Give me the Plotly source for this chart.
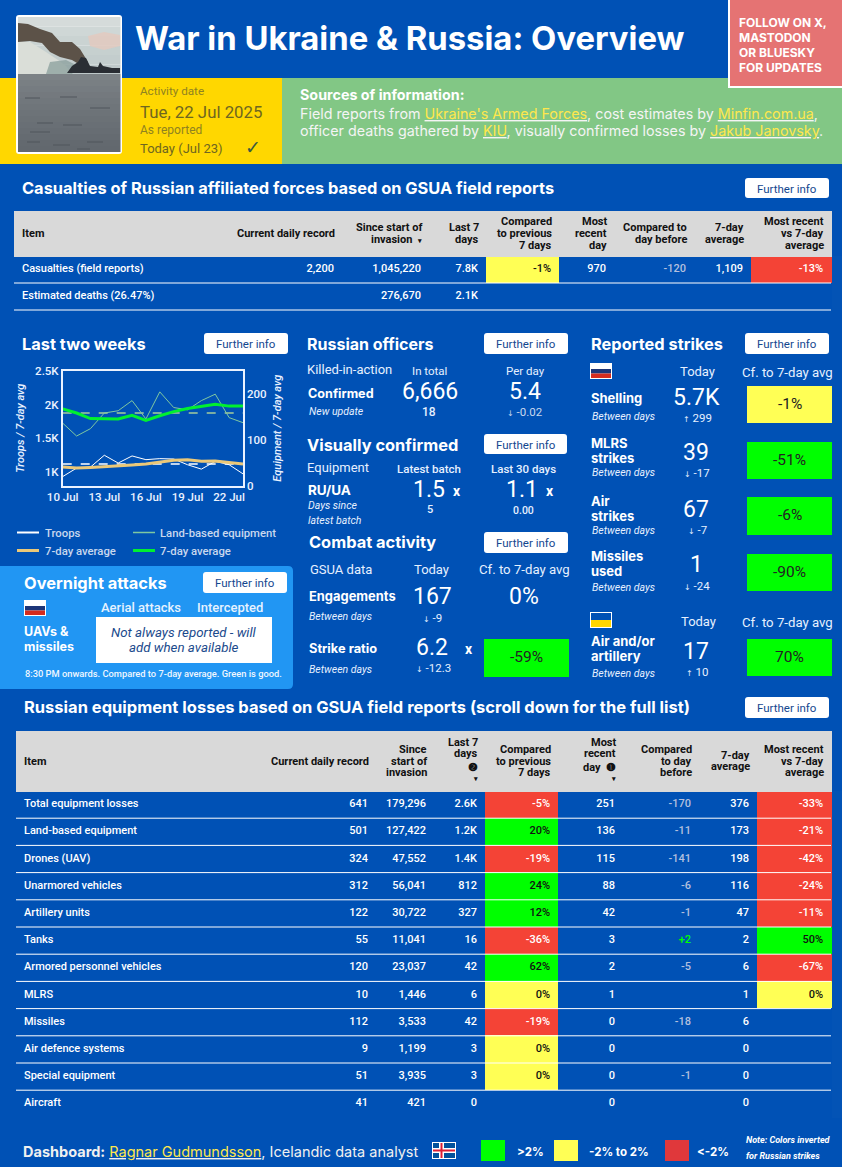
import plotly.graph_objects as go

W, H = 842, 1167
BLUE = "#0051B5"
GREEN = "#00FF00"
YELLOW = "#FFFF55"
RED = "#F44336"
PALE = "#B4C0DE"
GREY = "#D9D9D9"
BODY = "Roboto"
HEAD = "Inter"

# --- chart data ---
days = ["10 Jul", "11 Jul", "12 Jul", "13 Jul", "14 Jul", "15 Jul", "16 Jul",
        "17 Jul", "18 Jul", "19 Jul", "20 Jul", "21 Jul", "22 Jul", "23 Jul"]
day_ticks = ["10 Jul", "13 Jul", "16 Jul", "19 Jul", "22 Jul"]
troops = [935, 1060, 1075, 1250, 1135, 1240, 1185, 1200, 1195, 1110, 1045, 1160, 1110, 975]
troops_avg = [1075, 1060, 1070, 1080, 1085, 1105, 1120, 1150, 1175, 1185, 1160, 1165, 1145, 1120]
troops_ref = 1120
equipment = [136, 108, 124, 158, 163, 185, 145, 204, 170, 165, 185, 199, 148, 137]
equipment_avg = [167, 158, 146, 145, 145, 153, 142, 152, 161, 168, 173, 177, 173, 173]
equipment_ref = 158

# --- casualties table ---
cas_items = ["Casualties (field reports)", "Estimated deaths (26.47%)"]
cas_record = ["2,200", ""]
cas_total = ["1,045,220", "276,670"]
cas_last7 = ["7.8K", "2.1K"]
cas_cmp7 = [-1, None]
cas_recent = ["970", ""]
cas_before = ["-120", ""]
cas_avg7 = ["1,109", ""]
cas_vs7 = [-13, None]

# --- equipment table ---
eq_items = ["Total equipment losses", "Land-based equipment", "Drones (UAV)", "Unarmored vehicles",
            "Artillery units", "Tanks", "Armored personnel vehicles", "MLRS", "Missiles",
            "Air defence systems", "Special equipment", "Aircraft"]
eq_record = ["641", "501", "324", "312", "122", "55", "120", "10", "112", "9", "51", "41"]
eq_total = ["179,296", "127,422", "47,552", "56,041", "30,722", "11,041", "23,037", "1,446",
            "3,533", "1,199", "3,935", "421"]
eq_last7 = ["2.6K", "1.2K", "1.4K", "812", "327", "16", "42", "6", "42", "3", "3", "0"]
eq_cmp7 = [-5, 20, -19, 24, 12, -36, 62, 0, -19, 0, 0, None]
eq_recent = ["251", "136", "115", "88", "42", "3", "2", "1", "0", "0", "0", "0"]
eq_before = ["-170", "-11", "-141", "-6", "-1", "+2", "-5", "", "-18", "", "-1", ""]
eq_avg7 = ["376", "173", "198", "116", "47", "2", "6", "1", "6", "0", "0", "0"]
eq_vs7 = [-33, -21, -42, -24, -11, 50, -67, 0, None, None, None, None]

# --- strikes ---
strike_names = [["Shelling"], ["MLRS", "strikes"], ["Air", "strikes"], ["Missiles", "used"],
                ["Air and/or", "artillery"]]
strike_today = ["5.7K", "39", "67", "1", "17"]
strike_delta = [299, -17, -7, -24, 10]
strike_cf = [-1, -51, -6, -90, 70]
strike_inverted = [True, True, True, True, False]

annotations, shapes = [], []
SORT = '<span style="font-size:7px">▾</span>'


def fx(x):
    return x / W


def fy(y):
    return 1 - y / H


def txt(x, y, s, size=12, color="white", anchor="left", weight=400, italic=False, family=BODY):
    annotations.append(dict(
        x=fx(x), y=fy(y), xref="paper", yref="paper", text=s, showarrow=False,
        xanchor=anchor, yanchor="middle", borderpad=0, borderwidth=0,
        font=dict(family=family, size=size, color=color, weight=weight,
                  style="italic" if italic else "normal"),
    ))


def rect(x0, y0, x1, y1, color, line=None, lw=0):
    shapes.append(dict(type="rect", xref="paper", yref="paper", x0=fx(x0), x1=fx(x1), y0=fy(y0), y1=fy(y1),
                       fillcolor=color, line=dict(color=line or color, width=lw)))


def rrect(x0, y0, x1, y1, r, color):
    p = (f"M {fx(x0 + r)} {fy(y0)} L {fx(x1 - r)} {fy(y0)} Q {fx(x1)} {fy(y0)} {fx(x1)} {fy(y0 + r)} "
         f"L {fx(x1)} {fy(y1 - r)} Q {fx(x1)} {fy(y1)} {fx(x1 - r)} {fy(y1)} "
         f"L {fx(x0 + r)} {fy(y1)} Q {fx(x0)} {fy(y1)} {fx(x0)} {fy(y1 - r)} "
         f"L {fx(x0)} {fy(y0 + r)} Q {fx(x0)} {fy(y0)} {fx(x0 + r)} {fy(y0)} Z")
    shapes.append(dict(type="path", xref="paper", yref="paper", path=p, fillcolor=color, line=dict(width=0)))


def poly(points, color, opacity=1):
    p = "M " + " L ".join(f"{fx(x)} {fy(y)}" for x, y in points) + " Z"
    shapes.append(dict(type="path", xref="paper", yref="paper", path=p, fillcolor=color,
                       opacity=opacity, line=dict(width=0)))


def hline(x0, x1, y, color="white", width=1):
    shapes.append(dict(type="line", xref="paper", yref="paper", x0=fx(x0), x1=fx(x1), y0=fy(y), y1=fy(y),
                       line=dict(color=color, width=width)))


def further(x0, y0, x1, y1):
    rrect(x0, y0, x1, y1, 3, "white")
    txt((x0 + x1) / 2, (y0 + y1) / 2 + 0.5, "Further info", 11.5, "#14478F", "center")


def heading(x, y, s, size=16.4):
    txt(x, y, s, size, "white", weight=700, family=HEAD)


def ru_flag(x, y):
    rect(x, y, x + 22, y + 16, "white")
    rect(x + 1, y + 6, x + 21, y + 10.5, "#1C3578")
    rect(x + 1, y + 10.5, x + 21, y + 15, "#D52B1E")


def ua_flag(x, y):
    rect(x, y, x + 22, y + 16, "white")
    rect(x + 1, y + 1, x + 21, y + 8, BLUE)
    rect(x + 1, y + 8, x + 21, y + 15, "#FFD500")


def band(v, inverted=False):
    if v is None:
        return BLUE
    if -2 <= v <= 2:
        return YELLOW
    good = v > 2
    if inverted:
        good = v < -2
    return GREEN if good else RED


def band_text(v):
    if v is None:
        return BLUE
    return "white" if band(v) == RED else "#111111"


def pct(vals):
    return ["" if v is None else f"{v}%" for v in vals]


def before_colors(vals):
    return [GREEN if v.startswith("+") else PALE for v in vals]


def arrow(v):
    a = "↓" if v < 0 else "↑"
    return f'<span style="font-size:8px;font-family:DejaVu Sans">{a}</span> {v}'


def stat_box(x0, y0, x1, y1, v, inverted=True):
    rect(x0, y0, x1, y1, band(v, inverted))
    txt((x0 + x1) / 2, (y0 + y1) / 2 - 1, f"{v}%", 15.5, "#222222", "center")


def table_trace(columns, edges, top, header_h, row_h, fills, font_colors):
    n = len(columns[0])
    return go.Table(
        domain=dict(x=[fx(edges[0]), fx(edges[-1])], y=[fy(top + header_h + n * row_h + 1), fy(top)]),
        columnwidth=[b - a for a, b in zip(edges, edges[1:])],
        header=dict(values=[""] * len(columns), height=header_h,
                    fill_color=GREY, line=dict(color=GREY, width=1)),
        cells=dict(values=columns, height=row_h, fill_color=fills,
                   align=["left"] + ["right"] * (len(columns) - 1),
                   font=dict(family=BODY, size=11, color=font_colors, weight=500),
                   line=dict(color=fills, width=1)),
    )


def table_header(edges, labels, ys):
    for i, lines in enumerate(labels):
        x = edges[i] + 8 if i == 0 else edges[i + 1] - 7
        anchor = "left" if i == 0 else "right"
        for s, y in zip(lines, ys(len(lines))):
            txt(x, y, s, 11, "#111111", anchor, 700)


# --- page bands ---
rect(0, 78, 282, 164, "#FFD700")
rect(282, 78, 842, 164, "#82C785")
rect(728, -2, 844, 88, "white")
rect(730, -2, 844, 86, "#E57373")

# photo
rrect(16, 15, 122, 154, 3, "white")
for i, c in enumerate(["#D5DBDA", "#CFD7D6", "#CAD3D2", "#C6D0CF", "#C3CDCD", "#BFC9CA"]):
    rect(18, 17 + i * 9.5, 120.5, 26.5 + i * 9.5, c)
poly([(88, 36), (104, 32), (120, 35), (120, 46), (104, 50), (90, 46)], "#E3C9BE", 0.8)
poly([(18, 42), (30, 42), (46, 52), (58, 60), (66, 66), (72, 74), (18, 74)], "#DADED8")
poly([(50, 62), (66, 60), (78, 66), (72, 74), (46, 74)], "#8FA3A0", 0.8)
poly([(18, 23), (28, 24), (40, 29), (52, 33), (60, 42), (72, 42), (80, 49), (88, 62), (82, 66),
      (72, 60), (60, 57), (50, 52), (42, 43), (30, 41), (18, 42)], "#5C5248")
poly([(67, 73), (72, 66), (78, 62), (81, 57), (86, 58), (90, 66), (98, 67), (100, 62), (103, 66),
      (112, 68), (120, 68), (120, 73)], "#2A2E34")
sea = ["#7C8286", "#797F83", "#767C81", "#74797E", "#71777C", "#6F757A", "#6D7378", "#6B7176",
       "#696F75", "#676D73", "#656B71", "#63696F", "#62686E"]
for i, c in enumerate(sea):
    rect(18, 74 + i * 6, 120.5, 80 + i * 6 if i < len(sea) - 1 else 152, c)
for x0, x1, y in [(25, 40, 98), (60, 77, 97), (37, 53, 123), (63, 82, 125), (27, 40, 142),
                  (53, 70, 145), (77, 90, 149), (87, 103, 142), (90, 110, 108), (30, 50, 132)]:
    hline(x0, x1, y, "#50565C", 1)

txt(135, 38, "War in Ukraine &amp; Russia: Overview", 32.8, "white", weight=700, family=HEAD)
for s, y in zip(["FOLLOW ON X,", "MASTODON", "OR BLUESKY", "FOR UPDATES"], [22, 37, 52, 67]):
    txt(739, y, s, 12, "white", weight=700, family=HEAD)

txt(140, 91, "Activity date", 11.7, "#8F8220")
txt(140, 112, "Tue, 22 Jul 2025", 16.8, "#6E6620")
txt(140, 130, "As reported", 12, "#8F8220")
txt(140, 148, "Today (Jul 23)", 13, "#6E6620")
txt(253, 147, "✓", 19, "#3A5A40", "center", family="DejaVu Sans")

LINK = "#FFE74C"
txt(300, 95, "Sources of information:", 14.3, "white", weight=700, family=HEAD)
txt(300, 113, f'Field reports from <u><span style="color:{LINK}">Ukraine\'s Armed Forces</span></u>, cost estimates by '
              f'<u><span style="color:{LINK}">Minfin.com.ua</span></u>,', 14.3, "#F4F4F4", family=HEAD)
txt(300, 131, f'officer deaths gathered by <u><span style="color:{LINK}">KIU</span></u>, visually confirmed losses by '
              f'<u><span style="color:{LINK}">Jakub Janovsky</span></u>.', 14.3, "#F4F4F4", family=HEAD)

# --- casualties table ---
heading(22, 188, "Casualties of Russian affiliated forces based on GSUA field reports")
further(745, 178, 829, 198)
cas_edges = [14, 200, 342, 429, 486, 559, 614, 694, 751, 831]
cas_rows = len(cas_items)
cas_fills = [[BLUE] * cas_rows] * 4 + [[band(v) for v in cas_cmp7]] + [[BLUE] * cas_rows] * 3 + [[band(v) for v in cas_vs7]]
cas_fonts = [["white"] * cas_rows] * 4 + [[band_text(v) for v in cas_cmp7]] + [["white"] * cas_rows] + \
            [before_colors(cas_before)] + [["white"] * cas_rows] + [[band_text(v) for v in cas_vs7]]
table_header(cas_edges, [["Item"], ["Current daily record"], ["Since start of", f"invasion  {SORT}"], ["Last 7", "days"],
                         ["Compared", "to previous", "7 days"], ["Most", "recent", "day"],
                         ["Compared to", "day before"], ["7-day", "average"], ["Most recent", "vs 7-day", "average"]],
             lambda n: [233.5 + (i - (n - 1) / 2) * 11.6 for i in range(n)])
for k in range(1, cas_rows + 1):
    hline(14, 831, 256 + k * 27)

# --- chart ---
heading(22, 344, "Last two weeks")
further(204, 333, 288, 354)
for x, y, s, c, w in [(40, 533, "Troops", "white", 2), (143, 533, "Land-based equipment", "#7FC8A0", 1.5),
                      (40, 551, "7-day average", "#EBC878", 3), (143, 551, "7-day average", "#00F030", 3)]:
    hline(x - 23 if x == 40 else x - 10, x - 1 if x == 40 else x + 12, y - 0.5, c, w)
    txt(x + 5 if x == 40 else x + 17, y, s, 11.3, "#C9D8EE", weight=500)

# --- overnight ---
rrect(-6, 566, 293, 689, 5, "#2196F3")
heading(24, 583, "Overnight attacks")
further(203, 572, 287, 593)
ru_flag(24, 600)
txt(141, 607, "Aerial attacks", 13, "#E6F2FF", "center", 500)
txt(230, 607, "Intercepted", 13, "#E6F2FF", "center", 500)
txt(24, 631, "UAVs &amp;", 12.5, "white", weight=700, family=HEAD)
txt(24, 646, "missiles", 12.5, "white", weight=700, family=HEAD)
rect(96, 617, 272, 663, "white")
txt(184, 632, "Not always reported - will", 13.3, "#1B4A8C", "center", italic=True)
txt(184, 647, "add when available", 13.3, "#1B4A8C", "center", italic=True)
txt(25, 673, "8:30 PM onwards. Compared to 7-day average. Green is good.", 9.3, "#F0F6FF", weight=500)

# --- officers ---
heading(307, 344, "Russian officers", 16)
further(484, 333, 568, 354)
txt(307, 370, "Killed-in-action", 13, "#E6F0FF")
txt(429, 371, "In total", 11.5, "#E6F0FF", "center")
txt(525, 371, "Per day", 11.5, "#E6F0FF", "center")
txt(308, 393, "Confirmed", 12.6, "white", weight=700, family=HEAD)
txt(430, 391, "6,666", 23, "white", "center")
txt(525, 391, "5.4", 23, "white", "center")
txt(309, 412, "New update", 10.5, "#E6F0FF", italic=True)
txt(429, 412, "18", 12, "#E6F0FF", "center", 500)
txt(525, 412, arrow(-0.02), 11.5, "#C9D8EE", "center")

heading(307, 445, "Visually confirmed")
further(484, 434, 567, 454)
txt(307, 468, "Equipment", 13, "#E6F0FF")
txt(429, 469, "Latest batch", 11.5, "#E6F0FF", "center", 500)
txt(523, 469, "Last 30 days", 11.5, "#E6F0FF", "center", 500)
txt(308, 490, "RU/UA", 13.5, "white", weight=700, family=HEAD)
txt(429, 489, "1.5", 23, "white", "center")
txt(457, 491, "x", 14, "white", "center", 700)
txt(522, 489, "1.1", 23, "white", "center")
txt(550, 491, "x", 14, "white", "center", 700)
txt(308, 505, "Days since", 10.5, "#E6F0FF", italic=True)
txt(308, 520, "latest batch", 10.5, "#E6F0FF", italic=True)
txt(430, 509, "5", 11, "#E6F0FF", "center", 500)
txt(523, 510, "0.00", 10.5, "#E6F0FF", "center", 500)

heading(309, 542, "Combat activity")
further(484, 532, 568, 553)
txt(310, 569, "GSUA data", 13, "#E6F0FF")
txt(431, 570, "Today", 13, "#E6F0FF", "center")
txt(524, 570, "Cf. to 7-day avg", 13.2, "#E6F0FF", "center")
txt(309, 596, "Engagements", 12.9, "white", weight=700, family=HEAD)
txt(432, 596, "167", 23, "white", "center")
txt(524, 597, "0%", 23, "white", "center")
txt(309, 616, "Between days", 10.5, "#E6F0FF", italic=True)
txt(432, 618, arrow(-9), 11.5, "#E6F0FF", "center")
txt(309, 648, "Strike ratio", 12.8, "white", weight=700, family=HEAD)
txt(432, 647, "6.2", 23, "white", "center")
txt(469, 649, "x", 14, "white", "center", 700)
txt(309, 669, "Between days", 10.5, "#E6F0FF", italic=True)
txt(433, 668, arrow(-12.3), 11.5, "#E6F0FF", "center")
stat_box(484, 639, 569, 677, -59)

# --- strikes ---
heading(591, 344, "Reported strikes")
further(745, 333, 829, 354)
ru_flag(590, 363)
txt(697, 371, "Today", 13, "#E6F0FF", "center")
txt(787, 372, "Cf. to 7-day avg", 13.2, "#E6F0FF", "center")
ua_flag(590, 612)
txt(698, 621, "Today", 13, "#E6F0FF", "center")
txt(787, 622, "Cf. to 7-day avg", 13.2, "#E6F0FF", "center")
name_ys = [[398], [443, 458], [501, 516], [556, 571], [641, 656]]
big_ys = [397, 452, 509, 565, 651]
sub_ys = [416, 473, 531, 587, 673]
delta_ys = [418, 473, 530, 586, 672]
box_ys = [(386, 423), (442, 479), (497, 535), (554, 591), (639, 676)]
for i in range(len(strike_names)):
    for s, y in zip(strike_names[i], name_ys[i]):
        txt(591, y, s, 13, "white", weight=700, family=HEAD)
    txt(696, big_ys[i], strike_today[i], 23, "white", "center")
    txt(592, sub_ys[i], "Between days", 10.5, "#E6F0FF", italic=True)
    txt(697, delta_ys[i], arrow(strike_delta[i]), 11.5, "#E6F0FF", "center")
    stat_box(747, box_ys[i][0], 832, box_ys[i][1], strike_cf[i], strike_inverted[i])

# --- equipment table ---
heading(24, 707, "Russian equipment losses based on GSUA field reports (scroll down for the full list)", 16.5)
further(745, 697, 829, 718)
eq_edges = [16, 200, 376, 434, 485, 558, 623, 699, 757, 831]
eq_rows = len(eq_items)
eq_fills = [[BLUE] * eq_rows] * 4 + [[band(v) for v in eq_cmp7]] + [[BLUE] * eq_rows] * 3 + [[band(v) for v in eq_vs7]]
eq_fonts = [["white"] * eq_rows] * 4 + [[band_text(v) for v in eq_cmp7]] + [["white"] * eq_rows] + \
           [before_colors(eq_before)] + [["white"] * eq_rows] + [[band_text(v) for v in eq_vs7]]


def eq_ys(n):
    return [742, 753.5, 767, 779] if n == 4 else [761 + (i - (n - 1) / 2) * 11.6 for i in range(n)]


table_header(eq_edges, [["Item"], ["Current daily record"], ["Since", "start of", "invasion"],
                        ["Last 7", "days", "❷", SORT], ["Compared", "to previous", "7 days"],
                        ["Most", "recent", "day  ❶", SORT], ["Compared", "to day", "before"],
                        ["7-day", "average"], ["Most recent", "vs 7-day", "average"]], eq_ys)
for k in range(1, eq_rows):
    hline(16, 831, 791 + k * 27.2)

# --- footer ---
txt(23, 1152, '<b>Dashboard:</b> <u><span style="color:#FFE74C">Ragnar Gudmundsson</span></u>, Icelandic data analyst',
    14.5, "#F0F0F0", family=HEAD)
rect(432, 1142, 456, 1159, "white")
rect(433, 1143, 455, 1158, "#02529C")
rect(439, 1143, 444, 1158, "white")
rect(433, 1148, 455, 1153, "white")
rect(440.5, 1143, 442.5, 1158, "#DC1E35")
rect(433, 1149.5, 455, 1151.5, "#DC1E35")
for x0, c, tx, s in [(481, GREEN, 517, "&gt;2%"), (554, YELLOW, 589, "-2% to 2%"), (665, "#E0383B", 697, "&lt;-2%")]:
    rect(x0, 1140, x0 + 24, 1161, c)
    txt(tx, 1152, s, 11.5, "white", weight=700, family=HEAD)
txt(746, 1140, "Note: Colors inverted", 9, "white", weight=700, italic=True)
txt(746, 1156, "for Russian strikes", 9, "white", weight=700, italic=True)

fig = go.Figure()
fig.add_trace(table_trace([cas_items, cas_record, cas_total, cas_last7, pct(cas_cmp7), cas_recent, cas_before,
                           cas_avg7, pct(cas_vs7)], cas_edges, 211, 45, 27, cas_fills, cas_fonts))
fig.add_trace(table_trace([eq_items, eq_record, eq_total, eq_last7, pct(eq_cmp7), eq_recent, eq_before,
                           eq_avg7, pct(eq_vs7)], eq_edges, 731, 60, 27.2, eq_fills, eq_fonts))

fig.add_trace(go.Scatter(x=days, y=[equipment_ref] * len(days), yaxis="y2", mode="lines",
                         line=dict(color="#A4CB9C", width=1.5, dash="dash")))
fig.add_trace(go.Scatter(x=days, y=equipment, yaxis="y2", mode="lines", line=dict(color="#7FC8A0", width=1)))
fig.add_trace(go.Scatter(x=days, y=equipment_avg, yaxis="y2", mode="lines", line=dict(color="#00F030", width=3)))
fig.add_trace(go.Scatter(x=days, y=[troops_ref] * len(days), mode="lines",
                         line=dict(color="white", width=1.5, dash="dash")))
fig.add_trace(go.Scatter(x=days, y=troops, mode="lines", line=dict(color="white", width=1)))
fig.add_trace(go.Scatter(x=days, y=troops_avg, mode="lines", line=dict(color="#EBC878", width=3)))

tick_font = dict(family=BODY, size=11.5, color="#EAF2FF", weight=500)
title_font = dict(family=BODY, size=11, color="#EAF2FF", style="italic", weight=500)
fig.update_layout(
    width=W, height=H, margin=dict(l=0, r=0, t=0, b=0, autoexpand=False),
    paper_bgcolor=BLUE, plot_bgcolor=BLUE, showlegend=False,
    annotations=annotations, shapes=shapes,
    xaxis=dict(domain=[fx(62.7), fx(243)], type="category", categoryorder="array", categoryarray=days,
               range=[0, 13], tickvals=day_ticks, ticktext=day_ticks, showgrid=False, ticks="", ticklen=0,
               showline=True, mirror=True, linecolor="#EAF2FF", linewidth=1.5, tickfont=tick_font),
    yaxis=dict(domain=[fy(485.7), fy(370.7)], range=[800, 2500], tickvals=[1000, 1500, 2000, 2500],
               ticktext=["1K", "1.5K", "2K", "2.5K"], showgrid=False, zeroline=False, ticks="",
               showline=True, linecolor="#EAF2FF", linewidth=1.5, tickfont=tick_font,
               title=dict(text="Troops / 7-day avg", font=title_font, standoff=8)),
    yaxis2=dict(overlaying="y", side="right", range=[0, 250], tickvals=[0, 100, 200], showgrid=False,
                zeroline=False, ticks="", showline=True, linecolor="#EAF2FF", linewidth=1.5, tickfont=tick_font,
                title=dict(text="Equipment / 7-day avg", font=title_font, standoff=8)),
)

fig.write_html("out.html", config=dict(displayModeBar=False),
               post_script="document.body.style.margin='0';")
